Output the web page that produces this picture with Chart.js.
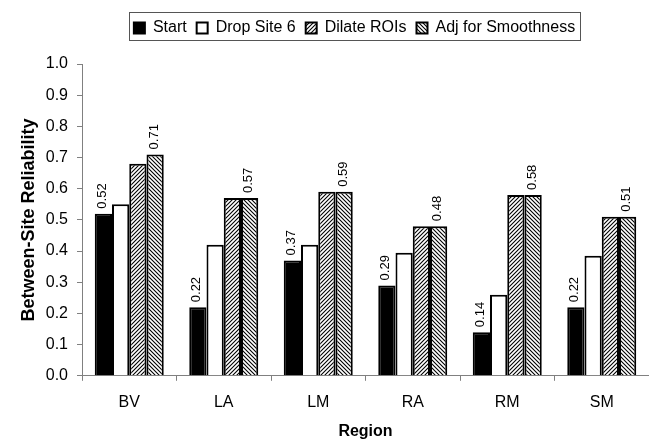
<!DOCTYPE html>
<html>
<head>
<meta charset="utf-8">
<script src="https://cdn.jsdelivr.net/npm/chart.js@4"></script>
<style>
  html, body { margin: 0; padding: 0; background: #fff; }
  #wrap { width: 649px; height: 440px; }
</style>
</head>
<body>
<div id="wrap"><canvas id="chart1"></canvas></div>
<script>
var regions = ['BV', 'LA', 'LM', 'RA', 'RM', 'SM'];
var seriesNames = ['Start', 'Drop Site 6', 'Dilate ROIs', 'Adj for Smoothness'];
var startVals = [0.52, 0.22, 0.37, 0.29, 0.14, 0.22];
var dropSite6Vals = [0.55, 0.42, 0.42, 0.395, 0.26, 0.385];
var dilateVals = [0.68, 0.57, 0.59, 0.48, 0.58, 0.51];
var adjVals = [0.71, 0.57, 0.59, 0.48, 0.58, 0.51];
var yTicks = [0.0, 0.1, 0.2, 0.3, 0.4, 0.5, 0.6, 0.7, 0.8, 0.9, 1.0];

// hatch fills
function hatch(dir) {
	var c = document.createElement('canvas');
	c.width = 4; c.height = 4;
	var g = c.getContext('2d');
	g.fillStyle = '#fff';
	g.fillRect(0, 0, 4, 4);
	g.strokeStyle = '#000';
	g.lineWidth = 1.1;
	g.beginPath();
	if (dir == 'up') {
		g.moveTo(-1, 5); g.lineTo(5, -1);
		g.moveTo(-1, 1); g.lineTo(1, -1);
		g.moveTo(3, 5); g.lineTo(5, 3);
	} else {
		g.moveTo(-1, -1); g.lineTo(5, 5);
		g.moveTo(-1, 3); g.lineTo(1, 5);
		g.moveTo(3, -1); g.lineTo(5, 1);
	}
	g.stroke();
	return document.getElementById('chart1').getContext('2d').createPattern(c, 'repeat');
}

var upHatch = hatch('up');
var downHatch = hatch('down');

// value labels on Start and Adj bars, rotated
var barLabels = {
	id: 'barLabels',
	afterDatasetsDraw: function(chart) {
		var ctx = chart.ctx;
		[0, 3].forEach(function(di) {
			var meta = chart.getDatasetMeta(di);
			meta.data.forEach(function(bar, i) {
				var v = chart.data.datasets[di].data[i];
				ctx.save();
				ctx.translate(bar.x - 1, bar.y - 5);
				ctx.rotate(-Math.PI / 2);
				ctx.font = '13px "Liberation Sans", Arial, sans-serif';
				ctx.fillStyle = '#000';
				ctx.textAlign = 'left';
				ctx.textBaseline = 'middle';
				ctx.fillText(v.toFixed(2), 0, 0);
				ctx.restore();
			});
		});
	}
};

// extra room under the legend, and legend sits right of centre
var legendMargin = {
	id: 'legendMargin',
	beforeInit: function(chart) {
		var fit = chart.legend.fit;
		chart.legend.fit = function() {
			fit.bind(chart.legend)();
			this.height += 18;
		};
	},
	afterLayout: function(chart) {
		chart.legend.left += 30;
		chart.legend.right += 30;
	}
};

// box round the legend
var legendBox = {
	id: 'legendBox',
	afterDraw: function(chart) {
		var ctx = chart.ctx;
		ctx.save();
		ctx.strokeStyle = '#555';
		ctx.lineWidth = 1;
		ctx.strokeRect(129.5, 12.5, 451, 28);
		ctx.restore();
	}
};

var chartdata = {
	labels: regions,
	datasets: [
		{ label: seriesNames[0], data: startVals, backgroundColor: '#000', borderColor: '#000', borderWidth: 2 },
		{ label: seriesNames[1], data: dropSite6Vals, backgroundColor: '#fff', borderColor: '#000', borderWidth: 2 },
		{ label: seriesNames[2], data: dilateVals, backgroundColor: upHatch, borderColor: '#000', borderWidth: 2 },
		{ label: seriesNames[3], data: adjVals, backgroundColor: downHatch, borderColor: '#000', borderWidth: 2 }
	]
};

var font = '"Liberation Sans", Arial, sans-serif';

var options = {
	responsive: true,
	maintainAspectRatio: false,
	animation: false,
	layout: { padding: { top: 10, right: 0, bottom: 0, left: 0 } },
	datasets: { bar: { barPercentage: 1.0, categoryPercentage: 0.73 } },
	plugins: {
		tooltip: { enabled: false },
		legend: {
			display: true,
			position: 'top',
			labels: {
				color: '#000',
				font: { family: font, size: 16 },
				boxWidth: 11,
				boxHeight: 11,
				padding: 10
			}
		}
	},
	scales: {
		x: {
			grid: { display: true, drawOnChartArea: false, color: '#808080', tickLength: 5, offset: true },
			border: { color: '#808080', width: 1 },
			ticks: { color: '#000', font: { family: font, size: 16 }, padding: 12 },
			title: { display: true, text: 'Region', color: '#000', font: { family: font, size: 16, weight: 'bold', lineHeight: 1 }, padding: { top: 0, bottom: 0 } }
		},
		y: {
			min: 0,
			max: 1,
			afterFit: function(s) { s.width = 82; },
			afterBuildTicks: function(s) { s.ticks = yTicks.map(function(v) { return { value: v }; }); },
			grid: { display: true, drawOnChartArea: false, color: '#808080', tickLength: 5 },
			border: { color: '#808080', width: 1 },
			ticks: { color: '#000', font: { family: font, size: 16 }, padding: 9, callback: function(v) { return v.toFixed(1); } },
			title: { display: true, text: 'Between-Site Reliability', color: '#000', font: { family: font, size: 18, weight: 'bold' }, padding: { top: 18, bottom: 0 } }
		}
	}
};

var chart1 = new Chart(document.getElementById('chart1'), {
	type: 'bar',
	data: chartdata,
	options: options,
	plugins: [barLabels, legendMargin, legendBox]
});
</script>
</body>
</html>
